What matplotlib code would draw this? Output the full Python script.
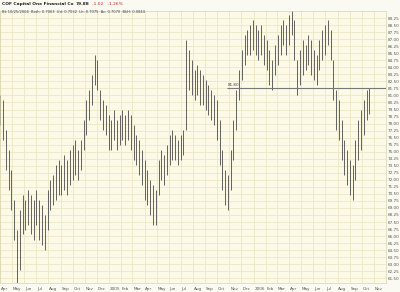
import pandas as pd
import matplotlib
matplotlib.use("Agg")
import matplotlib.pyplot as plt
import matplotlib.dates as mdates

# weekly bars (high / low)
highs = [81.0, 80.5, 77.3, 75.2,
         73.0, 69.9, 66.7, 68.8, 70.4,
         69.9, 70.9, 70.4, 69.9,
         70.9, 69.9, 69.3, 68.2,
         70.9, 72.0, 72.5, 73.6,
         74.1, 73.6, 74.6, 74.1, 75.2,
         75.7, 76.2, 75.2, 76.2,
         78.4, 80.5, 81.6, 83.2, 85.3,
         84.8, 81.6, 80.5, 80.0,
         78.9, 78.4, 79.4, 78.4,
         78.9, 79.4, 78.9, 79.4,
         78.9, 77.8, 76.8, 76.2, 75.2,
         74.1, 73.0, 72.0, 71.5,
         70.9, 74.1, 75.2, 74.6,
         75.7, 76.8, 77.3, 76.8,
         76.2, 76.8, 77.3, 86.9, 85.8,
         84.8, 83.7, 84.2, 83.7,
         83.2, 82.6, 82.1, 81.6,
         81.1, 80.5, 78.4, 75.2, 73.0,
         72.5, 75.2, 78.4, 81.6,
         83.7, 85.8, 87.4, 88.0,
         88.5, 89.0, 88.5, 88.0,
         88.5, 87.4, 86.9, 85.8, 84.8,
         86.4, 87.4, 88.5, 89.0,
         88.5, 89.6, 90.1, 89.0,
         84.8, 85.8, 86.9, 86.4,
         87.4, 86.9, 85.8, 85.3,
         86.9, 88.0, 88.5, 89.0, 88.0,
         84.8, 81.6, 80.5, 78.4, 76.2,
         75.2, 74.1, 73.6, 76.2,
         78.4, 79.4, 80.5, 81.6, 81.8]
lows = [77.8, 76.2, 73.0, 70.9,
        68.8, 65.6, 60.8, 62.4, 66.2,
        66.7, 67.2, 66.2, 65.6,
        67.2, 65.6, 65.0, 64.5,
        66.7, 68.8, 69.3, 69.9,
        70.4, 70.4, 70.9, 70.4, 71.5,
        72.0, 72.5, 72.0, 73.0,
        75.2, 76.8, 78.4, 80.0, 82.1,
        81.6, 78.4, 77.3, 76.8,
        75.2, 75.2, 76.2, 75.2,
        75.7, 76.2, 75.7, 76.2,
        75.2, 74.1, 73.6, 72.5, 71.5,
        69.9, 69.3, 68.2, 67.2,
        67.2, 70.4, 72.0, 71.5,
        72.5, 73.6, 74.1, 74.1,
        73.6, 74.1, 74.6, 77.3, 81.6,
        81.1, 80.5, 81.1, 80.0,
        80.0, 79.4, 78.9, 78.4,
        77.8, 76.2, 73.6, 70.9, 69.3,
        68.8, 70.9, 74.1, 77.3,
        80.5, 82.6, 84.2, 85.3,
        85.3, 85.8, 85.3, 84.8,
        85.3, 84.2, 83.7, 82.1, 81.6,
        83.2, 84.2, 85.3, 86.4,
        85.3, 86.4, 87.4, 84.8,
        81.1, 82.1, 83.2, 83.7,
        84.2, 83.2, 82.6, 82.1,
        83.7, 84.8, 85.3, 86.4, 84.8,
        80.5, 77.3, 76.2, 74.1, 72.5,
        71.5, 70.4, 69.9, 72.0,
        74.1, 75.2, 76.8, 78.4, 79.0]
dates = pd.date_range("2004-04-02", periods=len(highs), freq="W-FRI")

ref_level = 81.80
ytick_vals = [61.5 + 0.75 * k for k in range(38)]

bg = "#fcfae6"
gridc = "#ebe7c8"

fig = plt.figure(figsize=(4.0, 2.92), dpi=100, facecolor="#fbfaf2")
ax = fig.add_axes([0.0, 0.031, 0.965, 0.931])
ax.set_facecolor(bg)

ax.vlines(dates, lows, highs, color="#4a4a4a", lw=0.6)

# horizontal reference line
ax.hlines(ref_level, pd.Timestamp("2005-10-25"), pd.Timestamp("2006-12-01"),
          color="#777777", lw=0.8)
ax.text(pd.Timestamp("2005-10-28"), ref_level + 0.15, "%.2f" % ref_level,
        fontsize=3, color="#444444", va="bottom")

ax.set_xlim(pd.Timestamp("2004-04-01"), pd.Timestamp("2006-12-01"))
ax.set_ylim(61.0, 90.0)

ax.xaxis.set_major_locator(mdates.MonthLocator())
ax.set_xticklabels([])
ax.set_yticks(ytick_vals)
ax.yaxis.tick_right()
ax.set_yticklabels(["%.2f" % v for v in ytick_vals], fontsize=3, color="#555555")
ax.tick_params(length=0, pad=1)
ax.grid(True, color=gridc, lw=0.6)
ax.set_axisbelow(True)
for s in ax.spines.values():
    s.set_color("#d8d4b0")
    s.set_linewidth(0.5)

# month labels
for d in pd.date_range("2004-04-01", "2006-11-01", freq="MS"):
    lab = str(d.year) if d.month == 1 else d.strftime("%b")
    ax.text(d + pd.Timedelta(days=2), 60.55, lab, fontsize=3, color="#555555",
            ha="left", va="top", clip_on=False)

# header
fig.text(0.005, 0.993, "COF Capital One Financial Co", fontsize=3.2,
         fontweight="bold", color="#222222", va="top")
fig.text(0.19, 0.993, "79.88", fontsize=3.2, fontweight="bold", color="#222222", va="top")
fig.text(0.23, 0.993, "-1.02   -1.26%", fontsize=3.2, color="#cc2222", va="top")
fig.text(0.005, 0.965, "Bk 10/25/2004  Both: 0.7063  Ud: 0.7032  Lh: 0.7075  Ac: 0.7070  BkH: 0.0844",
         fontsize=2.6, color="#444444", va="top")

fig.savefig("out.png", dpi=100, facecolor=fig.get_facecolor())
